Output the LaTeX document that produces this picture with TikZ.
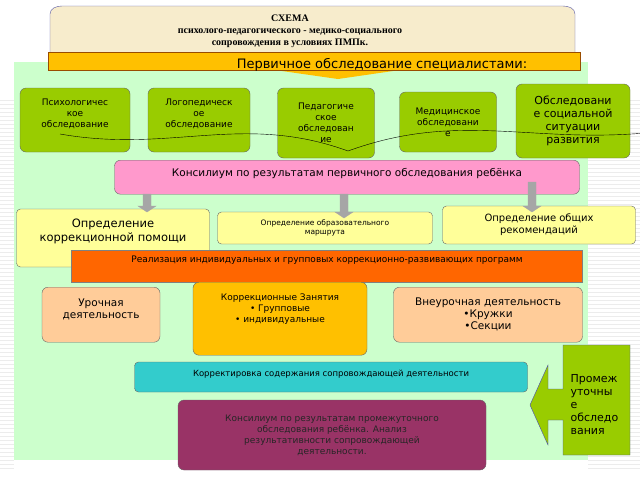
\documentclass[tikz,border=0pt]{standalone}
\usepackage{fontspec}
\setmainfont{DejaVu Sans}
\newfontfamily\titlefont{Liberation Serif}
\definecolor{panelgreen}{RGB}{204,255,204}
\definecolor{examgreen}{RGB}{153,204,0}
\definecolor{titletan}{RGB}{247,236,204}
\definecolor{bannerorange}{RGB}{255,192,0}
\definecolor{councilpink}{RGB}{255,153,204}
\definecolor{defyellow}{RGB}{255,255,153}
\definecolor{progorange}{RGB}{255,102,0}
\definecolor{peach}{RGB}{255,204,153}
\definecolor{adjcyan}{RGB}{51,204,204}
\definecolor{maroon}{RGB}{153,51,102}
\begin{document}
\begin{tikzpicture}[x=1pt,y=-1pt,
  box/.style={draw=black!60, rounded corners=6pt, align=center, inner sep=1pt},
  exam/.style={box, fill=examgreen, font=\fontsize{9}{11}\selectfont},
  defin/.style={box, fill=defyellow, rounded corners=4pt},
  grayarrow/.style={fill=gray!70, draw=gray!70}]
  \useasboundingbox (0,0) rectangle (640,480);
  % background stripes
  \foreach \y in {100,104,...,470} {
    \draw[gray!15] (0,\y) -- (14,\y);
    \draw[gray!15] (588,\y) -- (640,\y);
  }
  \fill[panelgreen] (14,62) rectangle (588,460);

  % title
  \draw[draw=gray!70!blue, fill=titletan] (50,62) -- (50,14) to[out=90,in=180] (62,6) -- (563,6) to[out=0,in=90] (575,14) -- (575,62);
  \node[font=\titlefont\bfseries\fontsize{10}{12}\selectfont, align=center] (title) at (290,31)
    {СХЕМА\\психолого-педагогического - медико-социального\\сопровождения в условиях ПМПк.};
  \fill[bannerorange] (275,70) -- (400,70) -- (338,79) -- cycle;
  \fill[bannerorange, draw=orange!60!black] (48,52) rectangle (580,70);
  \node[font=\fontsize{13}{14}\selectfont] (primary) at (382,65) {Первичное обследование специалистами:};

  % examinations
  \node[exam, minimum width=110, minimum height=64, text depth=14pt] (psy) at (75,120) {Психологичес\\кое\\обследование};
  \node[exam, minimum width=102, minimum height=64, text depth=14pt] (logo) at (199,120) {Логопедическ\\ое\\обследование};
  \node[exam, minimum width=97, minimum height=70] (ped) at (326,123) {Педагогиче\\ское\\обследован\\ие};
  \node[exam, minimum width=97, minimum height=60] (med) at (448,122) {Медицинское\\обследовани\\е};
  \node[exam, minimum width=114, minimum height=74, font=\fontsize{11}{13}\selectfont] (soc) at (573,121) {Обследовани\\е социальной\\ситуации\\развития};
  \draw (60,134) to[out=-10,in=160] (348,151) to[out=20,in=185] (645,133);

  % council
  \node[box, fill=councilpink, minimum width=465, minimum height=34, font=\fontsize{10.5}{12}\selectfont, anchor=north, text depth=10pt] (council) at (347,160) {Консилиум по результатам первичного обследования ребёнка};

  % definitions
  \node[defin, minimum width=193, minimum height=58, font=\fontsize{11.5}{14}\selectfont, text depth=16pt] (corr) at (113,238) {Определение\\коррекционной помощи};
  \node[defin, minimum width=215, minimum height=32, font=\fontsize{7.5}{9}\selectfont] (route) at (325,228) {Определение образовательного\\маршрута};
  \node[defin, minimum width=193, minimum height=38, font=\fontsize{10}{12}\selectfont] (recs) at (539,225) {Определение  общих\\рекомендаций};
  \foreach \x/\a/\b in {147/194/212, 344/194/218, 532/182/212}
    \fill[grayarrow] (\x-4,\a) -- (\x+4,\a) -- (\x+4,\b-6) -- (\x+9,\b-6) -- (\x,\b) -- (\x-9,\b-6) -- (\x-4,\b-6) -- cycle;

  % programmes
  \node[draw=black!50, fill=progorange, minimum width=511, minimum height=32] (prog) at (327,266) {};
  \node[font=\fontsize{9}{10}\selectfont, anchor=north] (progtext) at (327,252) {Реализация  индивидуальных и групповых коррекционно-развивающих программ};

  \node[box, fill=peach, minimum width=118, minimum height=55, font=\fontsize{10.5}{12}\selectfont, anchor=north, text depth=12pt] (lesson) at (101,287) {Урочная\\деятельность};
  \node[box, fill=bannerorange, minimum width=174, minimum height=73, font=\fontsize{9}{11}\selectfont, anchor=north, text depth=22pt] (classes) at (280,282) {Коррекционные Занятия\\• Групповые\\• индивидуальные};
  \node[box, fill=peach, minimum width=189, minimum height=55, font=\fontsize{10.5}{12}\selectfont, anchor=north] (extra) at (488,287) {Внеурочная деятельность\\•Кружки\\•Секции};

  % correction and interim council
  \node[box, fill=adjcyan, minimum width=393, minimum height=30, font=\fontsize{8.5}{10}\selectfont, rounded corners=4pt, text depth=8pt] (adjust) at (331,377) {Корректировка содержания сопровождающей деятельности};
  \node[box, fill=maroon, text=black!85, minimum width=308, minimum height=70, font=\fontsize{9}{11}\selectfont] (interim) at (332,435) {Консилиум по результатам промежуточного\\обследования ребёнка.  Анализ\\результативности сопровождающей\\деятельности.};

  % interim arrow
  \draw[fill=examgreen, draw=blue!40!gray] (630,345) -- (630,455) -- (563,455) -- (563,420) -- (548,420) -- (548,445) -- (530,405) -- (548,365) -- (548,389) -- (563,389) -- (563,345) -- cycle;
  \node[font=\fontsize{11}{13}\selectfont, align=left, anchor=west] (interimlbl) at (567,405) {Промеж\\уточны\\е\\обследо\\вания};
\end{tikzpicture}
\end{document}
